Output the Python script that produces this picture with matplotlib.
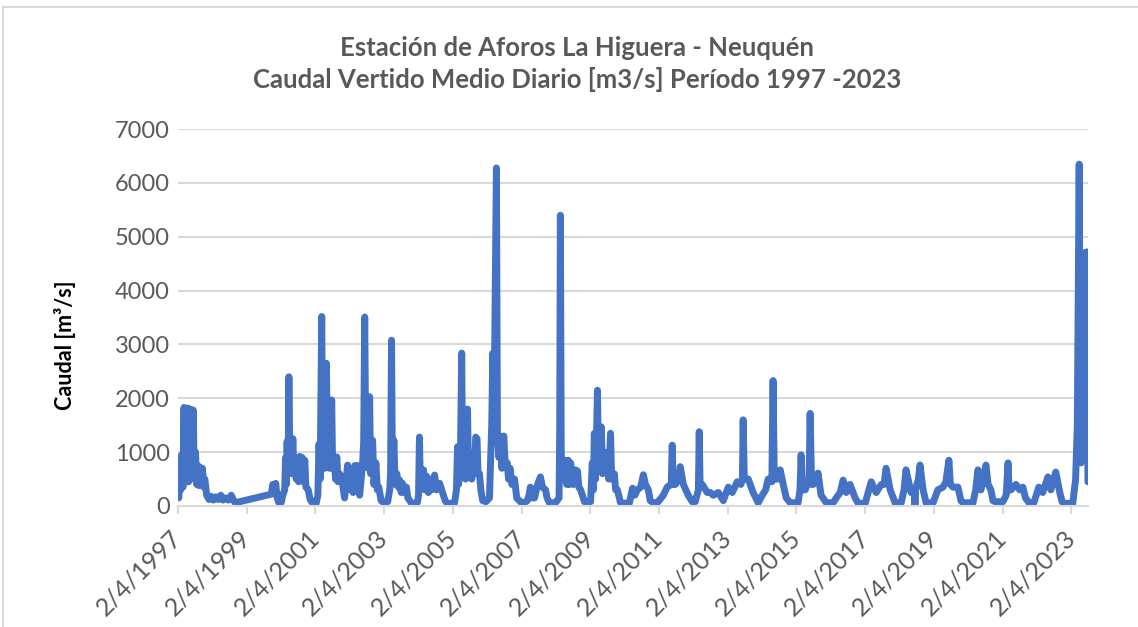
import pandas as pd
import matplotlib
matplotlib.use("Agg")
import matplotlib.pyplot as plt
from matplotlib.patches import Rectangle

# Caudal vertido medio diario [m3/s] (picos y valles)
fechas_1997_2001 = [
    # 1997
    "1997-04-02", "1997-04-10", "1997-04-20", "1997-05-01", "1997-05-12", "1997-05-25",
    "1997-06-05", "1997-06-14", "1997-06-24", "1997-07-04", "1997-07-14", "1997-07-24",
    "1997-08-03", "1997-08-13", "1997-08-23", "1997-09-02", "1997-09-12", "1997-09-22",
    "1997-10-05", "1997-10-18", "1997-10-30", "1997-11-10", "1997-11-22", "1997-12-05",
    "1997-12-18",
    # 1998 - 1999 (sin datos durante 1999)
    "1998-01-01", "1998-01-12", "1998-02-01", "1998-02-25", "1998-03-20", "1998-04-15",
    "1998-05-10", "1998-06-05", "1998-07-01", "1998-07-25", "1998-08-20", "1998-09-20",
    "1998-10-20", "1998-11-10", "1998-12-01", "1999-12-20",
    # 2000
    "2000-01-05", "2000-01-20", "2000-02-05", "2000-02-20", "2000-03-10", "2000-04-05",
    "2000-04-20", "2000-05-10", "2000-05-20", "2000-05-28", "2000-06-05", "2000-06-15",
    "2000-06-24", "2000-07-04", "2000-07-14", "2000-07-24", "2000-08-05", "2000-08-15",
    "2000-08-27", "2000-09-10", "2000-09-22", "2000-10-05", "2000-10-18", "2000-10-30",
    "2000-11-12", "2000-11-25", "2000-12-10", "2000-12-22",
    # 2001
    "2001-01-15", "2001-02-05", "2001-03-01", "2001-04-10", "2001-04-28", "2001-05-10",
    "2001-05-22", "2001-06-08", "2001-06-18", "2001-07-01", "2001-07-12", "2001-07-28",
    "2001-08-08", "2001-08-20", "2001-09-01", "2001-09-22", "2001-10-02", "2001-10-20",
    "2001-11-01", "2001-11-15", "2001-11-28", "2001-12-15",
]
caudal_1997_2001 = [
    # 1997
    850, 150, 900, 300, 950, 350,
    1830, 450, 1800, 500, 1820, 450,
    1800, 500, 1790, 550, 1780, 500,
    1000, 400, 750, 380, 720, 400,
    700,
    # 1998 - 1999
    350, 500, 200, 120, 180, 110,
    170, 120, 200, 110, 150, 110,
    200, 120, 60, 220,
    # 2000
    400, 230, 420, 150, 60, 70,
    200, 300, 900, 400, 1200, 600,
    2400, 900, 1200, 600, 1250, 700,
    900, 500, 900, 450, 920, 500,
    900, 450, 850, 350,
    # 2001
    300, 120, 60, 50, 200, 1150,
    500, 3520, 900, 1600, 700, 2650,
    900, 1500, 700, 1970, 700, 910,
    500, 910, 450, 600,
]

fechas_2002_2007 = [
    # 2002
    "2002-01-08", "2002-02-06", "2002-03-10", "2002-03-25", "2002-04-22", "2002-05-08",
    "2002-05-25", "2002-06-08", "2002-06-24", "2002-07-16", "2002-08-17", "2002-08-28",
    "2002-09-08", "2002-09-20", "2002-10-01", "2002-10-15", "2002-10-30", "2002-11-10",
    "2002-12-01", "2002-12-15",
    # 2003
    "2003-01-05", "2003-01-20", "2003-02-05", "2003-03-01", "2003-04-01", "2003-05-10",
    "2003-06-01", "2003-06-10", "2003-06-20", "2003-06-30", "2003-07-15", "2003-07-28",
    "2003-08-15", "2003-09-01", "2003-09-15", "2003-10-01", "2003-10-15", "2003-11-05",
    "2003-11-25", "2003-12-10",
    # 2004
    "2004-01-15", "2004-02-20", "2004-03-20", "2004-04-02", "2004-04-12", "2004-04-22",
    "2004-05-05", "2004-05-25", "2004-06-10", "2004-06-28", "2004-07-15", "2004-07-30",
    "2004-08-20", "2004-09-20", "2004-10-10", "2004-10-25", "2004-11-13", "2004-12-13",
    # 2005
    "2005-01-10", "2005-02-05", "2005-04-20", "2005-05-10", "2005-05-22", "2005-06-01",
    "2005-06-20", "2005-07-05", "2005-07-15", "2005-08-01", "2005-08-15", "2005-09-05",
    "2005-09-15", "2005-10-05", "2005-10-20", "2005-11-05", "2005-11-17", "2005-12-01",
    "2005-12-15", "2005-12-25",
    # 2006
    "2006-01-10", "2006-01-25", "2006-02-13", "2006-03-20", "2006-04-26", "2006-05-07",
    "2006-05-20", "2006-06-01", "2006-06-10", "2006-06-20", "2006-07-09", "2006-07-20",
    "2006-08-05", "2006-08-20", "2006-09-05", "2006-09-25", "2006-10-10", "2006-11-01",
    "2006-11-15", "2006-12-01", "2006-12-20",
    # 2007
    "2007-01-18", "2007-02-10", "2007-03-20", "2007-05-01", "2007-06-03", "2007-06-20",
    "2007-07-05", "2007-07-25", "2007-08-18", "2007-09-20", "2007-10-20", "2007-11-10",
    "2007-12-13", "2007-12-30",
]
caudal_2002_2007 = [
    # 2002
    500, 150, 760, 300, 650, 250,
    750, 350, 750, 200, 800, 1200,
    3510, 900, 1500, 700, 2030, 600,
    1220, 400,
    # 2003
    800, 300, 350, 100, 60, 80,
    300, 600, 3080, 500, 1220, 400,
    600, 350, 480, 250, 420, 250,
    350, 150,
    # 2004
    60, 40, 60, 200, 1280, 300,
    500, 670, 300, 550, 250, 500,
    300, 575, 300, 400, 420, 250,
    # 2005
    100, 40, 60, 300, 1100, 400,
    700, 2840, 700, 1000, 500, 1800,
    600, 900, 500, 1000, 600, 1280,
    1250, 600,
    # 2006
    600, 300, 100, 80, 150, 800,
    1500, 2840, 1200, 2800, 6280, 1300,
    900, 1300, 700, 1300, 800, 800,
    500, 700, 400,
    # 2007
    500, 150, 80, 60, 100, 200,
    350, 150, 150, 400, 540, 350,
    300, 150,
]

fechas_2008_2014 = [
    # 2008
    "2008-01-23", "2008-03-28", "2008-05-05", "2008-05-12", "2008-05-19", "2008-05-28",
    "2008-06-10", "2008-07-12", "2008-07-25", "2008-08-10", "2008-08-25", "2008-09-05",
    "2008-10-05", "2008-10-27", "2008-11-17", "2008-12-01", "2008-12-20",
    # 2009
    "2009-01-30", "2009-04-05", "2009-04-23", "2009-05-05", "2009-05-15", "2009-05-28",
    "2009-06-17", "2009-06-28", "2009-07-15", "2009-07-28", "2009-08-10", "2009-09-01",
    "2009-10-01", "2009-10-15", "2009-11-03", "2009-11-15", "2009-12-13", "2009-12-28",
    # 2010
    "2010-01-15", "2010-02-17", "2010-05-22", "2010-06-25", "2010-07-20", "2010-08-15",
    "2010-09-20", "2010-10-18", "2010-11-10", "2010-12-10", "2010-12-30",
    # 2011
    "2011-02-03", "2011-03-15", "2011-05-18", "2011-06-28", "2011-08-10", "2011-08-21",
    "2011-09-01", "2011-09-23", "2011-11-01", "2011-11-14", "2011-12-17",
    # 2012
    "2012-02-07", "2012-03-20", "2012-04-22", "2012-05-25", "2012-06-03", "2012-06-12",
    "2012-07-05", "2012-08-28", "2012-09-30", "2012-10-30", "2012-12-23",
    # 2013
    "2013-02-14", "2013-04-08", "2013-05-20", "2013-07-12", "2013-08-20", "2013-09-05",
    "2013-09-13", "2013-09-25", "2013-11-06", "2013-12-28",
    # 2014
    "2014-02-20", "2014-04-04", "2014-05-10", "2014-06-06", "2014-07-15", "2014-07-28",
    "2014-08-10", "2014-09-15", "2014-10-12", "2014-11-13", "2014-12-15",
]
caudal_2008_2014 = [
    # 2008
    60, 60, 150, 1500, 5400, 1000,
    500, 850, 400, 850, 400, 800,
    400, 670, 650, 350, 300,
    # 2009
    80, 80, 800, 300, 1350, 500,
    2150, 700, 1300, 1470, 600, 1000,
    900, 500, 1350, 500, 600, 300,
    # 2010
    300, 60, 50, 330, 200, 300,
    350, 580, 400, 300, 100,
    # 2011
    60, 60, 200, 350, 400, 1130,
    400, 400, 500, 730, 400,
    # 2012
    200, 80, 80, 300, 1380, 400,
    400, 250, 250, 200, 250,
    # 2013
    100, 350, 250, 450, 400, 500,
    1600, 500, 500, 250,
    # 2014
    60, 200, 300, 500, 450, 2330,
    500, 500, 670, 400, 150,
]

fechas_2015_2023 = [
    # 2015
    "2015-01-26", "2015-04-20", "2015-05-10", "2015-05-22", "2015-06-05", "2015-07-05",
    "2015-08-15", "2015-08-26", "2015-09-10", "2015-09-28", "2015-11-01", "2015-11-18",
    "2015-12-20",
    # 2016
    "2016-02-14", "2016-04-27", "2016-05-30", "2016-07-10", "2016-08-11", "2016-09-13",
    "2016-10-23", "2016-12-16",
    # 2017
    "2017-01-18", "2017-04-02", "2017-06-05", "2017-07-28", "2017-09-20", "2017-10-20",
    "2017-11-10", "2017-12-24",
    # 2018
    "2018-02-14", "2018-04-20", "2018-05-20", "2018-06-10", "2018-08-03", "2018-09-10",
    "2018-09-13", "2018-09-18", "2018-10-20", "2018-11-06", "2018-12-09",
    # 2019
    "2019-01-09", "2019-03-25", "2019-05-15", "2019-07-08", "2019-08-08", "2019-09-09",
    "2019-09-25", "2019-10-22", "2019-12-14",
    # 2020
    "2020-01-15", "2020-02-06", "2020-05-22", "2020-06-20", "2020-07-14", "2020-08-15",
    "2020-10-07", "2020-10-30", "2020-11-29", "2020-12-20",
    # 2021
    "2021-01-10", "2021-04-05", "2021-05-10", "2021-05-30", "2021-06-10", "2021-06-30",
    "2021-08-22", "2021-10-01", "2021-11-03", "2021-12-01",
    # 2022
    "2022-01-08", "2022-02-28", "2022-04-22", "2022-06-02", "2022-07-28", "2022-08-28",
    "2022-10-19", "2022-12-01", "2022-12-25",
    # 2023
    "2023-01-12", "2023-04-18", "2023-05-18", "2023-06-05", "2023-06-25", "2023-07-05",
    "2023-07-15", "2023-07-28", "2023-08-06", "2023-08-17", "2023-08-28", "2023-09-05",
    "2023-09-15", "2023-09-22", "2023-09-26",
]
caudal_2015_2023 = [
    # 2015
    60, 60, 300, 950, 300, 300,
    500, 1720, 400, 400, 500, 610,
    200,
    # 2016
    60, 60, 150, 250, 480, 250,
    400, 150,
    # 2017
    50, 50, 450, 250, 400, 400,
    700, 300,
    # 2018
    60, 60, 300, 670, 250, 300,
    0, 300, 500, 760, 300,
    # 2019
    60, 60, 300, 350, 450, 850,
    400, 350, 350,
    # 2020
    100, 60, 60, 300, 670, 300,
    760, 400, 300, 100,
    # 2021
    80, 80, 200, 800, 300, 300,
    400, 300, 350, 150,
    # 2022
    60, 60, 350, 250, 540, 300,
    630, 250, 80,
    # 2023
    50, 50, 500, 1500, 6350, 2500,
    800, 1500, 4700, 1000, 4700, 1200,
    4720, 1650, 450,
]

# ticks del eje x: cada 2 anios desde el 2/4/1997
anios_ticks = list(range(1997, 2024, 2))
y_ticks = [0, 1000, 2000, 3000, 4000, 5000, 6000, 7000]

titulo = "Estación de Aforos La Higuera - Neuquén\nCaudal Vertido Medio Diario [m3/s] Período 1997 -2023"
etiqueta_y = "Caudal [m³/s]"

fechas = fechas_1997_2001 + fechas_2002_2007 + fechas_2008_2014 + fechas_2015_2023
caudal = caudal_1997_2001 + caudal_2002_2007 + caudal_2008_2014 + caudal_2015_2023
assert len(fechas) == len(caudal)

df = pd.DataFrame({"fecha": pd.to_datetime(fechas), "caudal": caudal})

plt.rcParams["font.family"] = ["Lato", "DejaVu Sans"]

fig = plt.figure(figsize=(11.38, 6.27), dpi=100)
ax = fig.add_axes([0.1564, 0.193, 0.7996, 0.601])

ax.plot(df["fecha"], df["caudal"], color="#4472C4", lw=5,
        solid_joinstyle="round", solid_capstyle="round")

ax.set_ylim(0, 7000)
ax.set_yticks(y_ticks)
ax.set_xlim(df["fecha"].min(), df["fecha"].max())

tick_fechas = [pd.Timestamp(year=a, month=4, day=2) for a in anios_ticks]
ax.set_xticks(tick_fechas)
ax.set_xticklabels([f"{d.day}/{d.month}/{d.year}" for d in tick_fechas],
                   rotation=45, ha="right", va="center", rotation_mode="anchor")

ax.yaxis.grid(True, color="#d9d9d9", lw=1.5)
ax.set_axisbelow(True)
for s in ["top", "right", "left"]:
    ax.spines[s].set_visible(False)
ax.spines["bottom"].set_color("#d9d9d9")
ax.spines["bottom"].set_linewidth(1.5)
ax.tick_params(axis="y", length=0, labelsize=17, labelcolor="#595959", pad=6)
ax.tick_params(axis="x", length=6, width=1.5, color="#d9d9d9",
               labelsize=18, labelcolor="#595959", pad=14)

fig.text(0.507, 0.898, titulo, ha="center", va="center", fontsize=18.5,
         fontweight="bold", color="#595959", linespacing=1.3)
fig.text(0.057, 0.45, etiqueta_y, ha="center", va="center", rotation=90,
         fontsize=15.5, fontweight="bold", color="black")

# borde del area del grafico
fig.add_artist(Rectangle((3 / 1138, -0.1), 1.2, 1.0888, transform=fig.transFigure,
                         fill=False, ec="#d9d9d9", lw=1.5))

fig.savefig("out.png", dpi=100)
